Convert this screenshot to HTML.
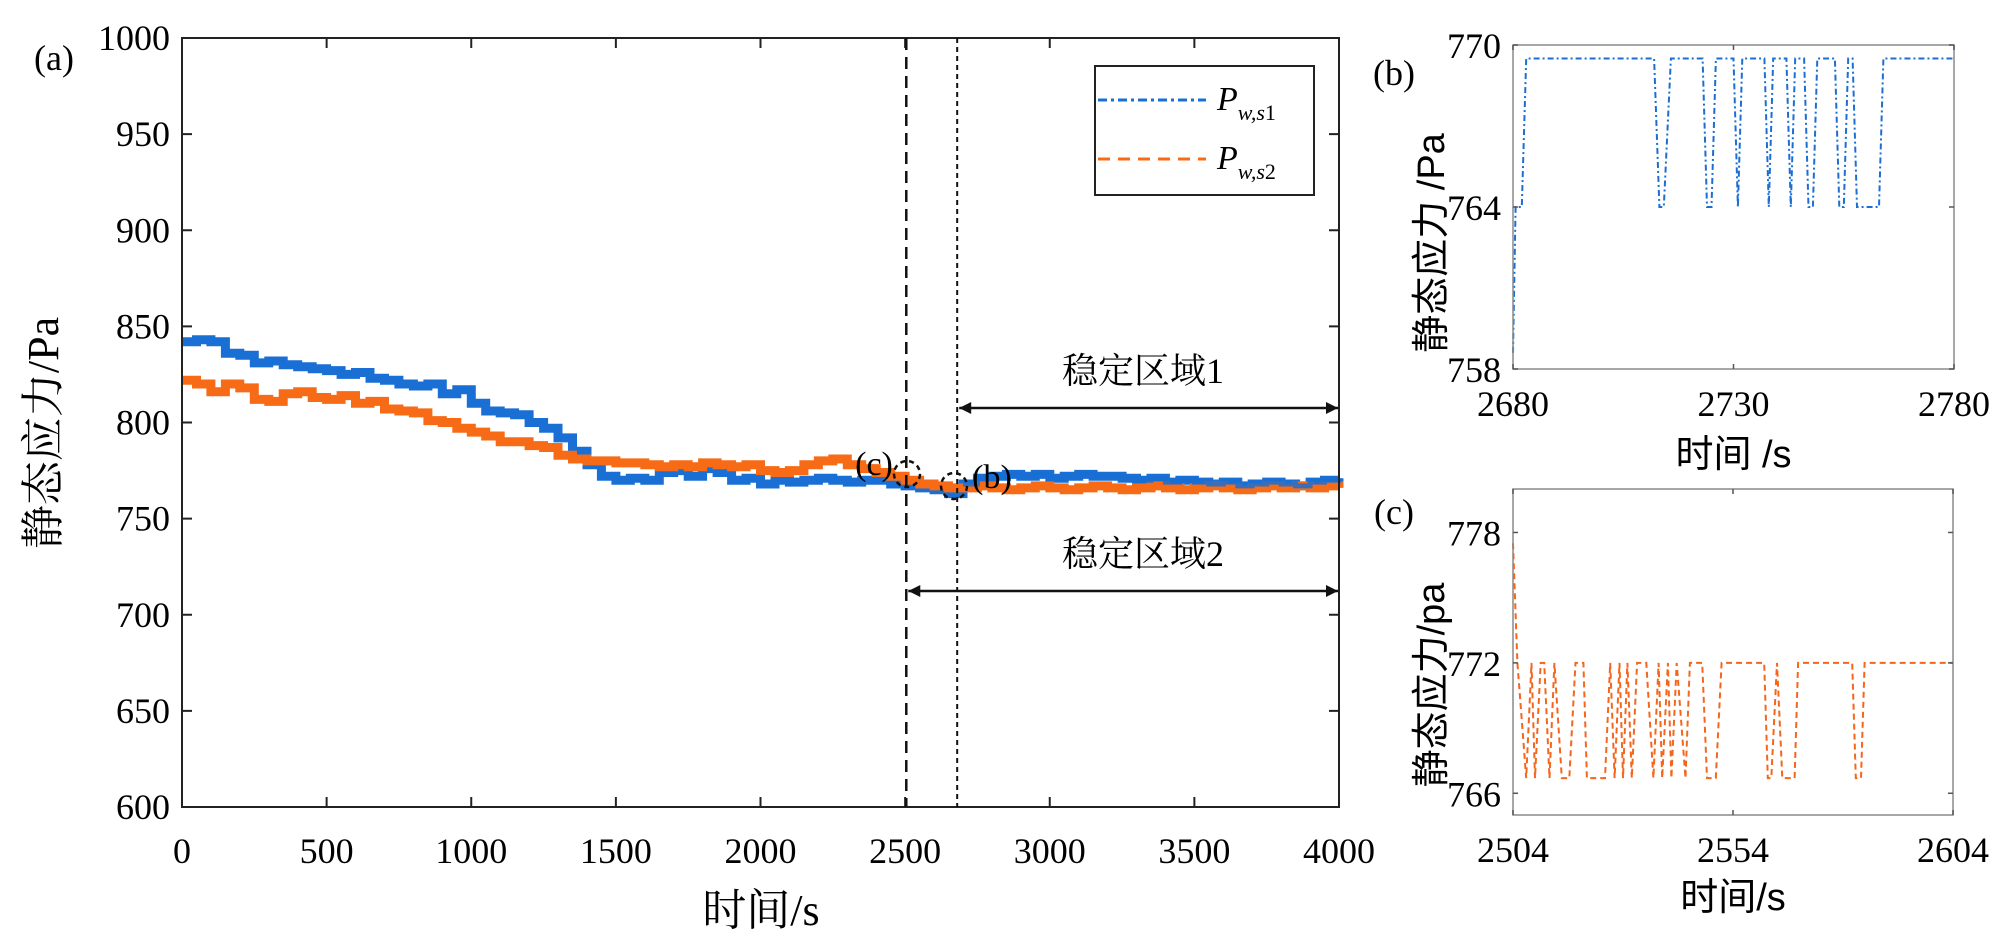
<!DOCTYPE html>
<html><head><meta charset="utf-8">
<style>
html,body{margin:0;padding:0;background:#fff;}
svg{display:block;}
.tn{font-family:"Liberation Serif","Noto Serif CJK SC",serif;}
.ss{font-family:"Liberation Sans","Noto Sans CJK SC",sans-serif;}
</style></head>
<body>
<svg id="fig" width="1999" height="944" viewBox="0 0 1999 944" xmlns="http://www.w3.org/2000/svg"></svg>
<script>
// ---- main chart data (x every 50 s) ----
const mainTimes = [0,50,100,150,200,250,300,350,400,450,500,550,600,650,700,750,800,850,900,950,1000,1050,1100,1150,1200,1250,1300,1350,1400,1450,1500,1550,1600,1650,1700,1750,1800,1850,1900,1950,2000,2050,2100,2150,2200,2250,2300,2350,2400,2450,2500,2550,2600,2650,2700,2750,2800,2850,2900,2950,3000,3050,3100,3150,3200,3250,3300,3350,3400,3450,3500,3550,3600,3650,3700,3750,3800,3850,3900,3950,4000];
const pws1 = [842,843,842,836,835,831,832,830,829,828,827,825,826,823,822,820,819,820,815,817,810,806,805,804,800,797,792,785,778,772,770,771,770,774,775,772,776,774,770,771,768,770,769,770,771,770,769,770,770,768,767,766,765,763,768,771,772,773,772,773,771,772,773,772,772,771,770,771,769,770,769,768,769,767,768,769,768,767,769,770,771];
const pws2 = [822,820,816,820,818,812,811,815,816,813,812,814,810,811,807,806,805,801,800,797,795,793,790,790,788,787,783,781,780,780,779,779,778,777,778,777,779,778,777,778,775,774,775,778,780,781,778,776,774,772,770,768,767,766,766,767,766,765,766,767,766,765,766,767,766,765,766,767,766,765,766,767,766,765,766,767,766,767,766,767,766];
const mainXTicks = [0,500,1000,1500,2000,2500,3000,3500,4000];
const mainYTicks = [600,650,700,750,800,850,900,950,1000];
const markerTimes = [2504,2680];
// ---- inset (b) ----
const bTimes = [2680,2680.6,2682,2683,2712,2713.2,2714.2,2715.8,2723,2724,2725,2726,2730,2731,2732,2737,2738,2739,2742,2743,2744,2746,2747,2748,2749,2753,2754,2755,2756,2757,2758,2763,2764,2780];
const bVals = [758.6,764,764,769.5,769.5,764,764,769.5,769.5,764,764,769.5,769.5,764,769.5,769.5,764,769.5,769.5,764,769.5,769.5,764,764,769.5,769.5,764,764,769.5,769.5,764,764,769.5,769.5];
const bXTicks = [2680,2730,2780];
const bYTicks = [758,764,770];
// ---- inset (c) ----
const cTimes = [2504,2505,2507,2508.2,2509,2510.3,2511.1,2512.3,2513.4,2515.1,2516.8,2518.2,2520,2520.8,2524.9,2526.1,2527.1,2528.2,2529,2530,2531,2532.2,2534.3,2535.9,2537.1,2537.9,2539.2,2540,2541.2,2543.2,2544.2,2547,2548.1,2550.1,2551.4,2561.1,2561.9,2562.7,2564,2565.2,2568,2568.8,2581.1,2581.9,2583.1,2583.9,2604];
const cVals = [777.5,772,766.7,772,766.7,772,772,766.7,772,766.7,766.7,772,772,766.7,766.7,772,766.7,772,766.7,772,766.7,772,772,766.7,772,766.7,772,766.7,772,766.7,772,772,766.7,766.7,772,772,766.7,766.7,772,766.7,766.7,772,772,766.7,766.7,772,772];
const cXTicks = [2504,2554,2604];
const cYTicks = [766,772,778];

const NS = "http://www.w3.org/2000/svg";
const fig = document.getElementById('fig');
function mk(tag, attrs, parent, text){
  const e = document.createElementNS(NS, tag);
  for (const k in attrs) e.setAttribute(k, attrs[k]);
  if (text !== undefined) e.textContent = text;
  (parent || fig).appendChild(e);
  return e;
}
function scale(d0,d1,r0,r1){ return v => r0 + (v-d0)/(d1-d0)*(r1-r0); }

// ===== Main chart =====
const M = {l:182, r:1339, t:38, b:807};
const mx = scale(0,4000,M.l,M.r);
const my = scale(600,1000,M.b,M.t);
const gMain = mk('g',{});



function stepPath(ts, vs, xs, ys){
  let d = 'M'+xs(ts[0]).toFixed(1)+','+ys(vs[0]).toFixed(1);
  for (let i=1;i<ts.length;i++){
    d += ' H'+xs(ts[i]).toFixed(1)+' V'+ys(vs[i]).toFixed(1);
  }
  return d;
}
const s1 = mk('path',{d:stepPath(mainTimes,pws1,mx,my),fill:'none',stroke:'#1a6fd4','stroke-width':9},gMain);


const s2 = mk('path',{d:stepPath(mainTimes,pws2,mx,my),fill:'none',stroke:'#f86b16','stroke-width':9},gMain);


const s1b = mk('path',{d:stepPath(mainTimes.slice(54),pws1.slice(54),mx,my),fill:'none',stroke:'#1a6fd4','stroke-width':5,'opacity':0.85},gMain);



const mf = mk('rect',{x:M.l,y:M.t,width:M.r-M.l,height:M.b-M.t,fill:'none',stroke:'#222','stroke-width':2},gMain);


mainXTicks.forEach(v=>{
  const x = mx(v);
  mk('line',{x1:x,x2:x,y1:M.b,y2:M.b-10,stroke:'#222','stroke-width':2},gMain);
  mk('line',{x1:x,x2:x,y1:M.t,y2:M.t+10,stroke:'#222','stroke-width':2},gMain);
  const t = mk('text',{x:x,y:863,'text-anchor':'middle','font-size':36,class:'tn'},gMain,String(v));
  
  
});
mainYTicks.forEach(v=>{
  const y = my(v);
  mk('line',{x1:M.l,x2:M.l+10,y1:y,y2:y,stroke:'#222','stroke-width':2},gMain);
  mk('line',{x1:M.r,x2:M.r-10,y1:y,y2:y,stroke:'#222','stroke-width':2},gMain);
  const t = mk('text',{x:170,y:y+12,'text-anchor':'end','font-size':36,class:'tn'},gMain,String(v));
  
  
});
const xt = mk('text',{x:761,y:925,'text-anchor':'middle','font-size':44,class:'tn'},gMain,'时间/s');


const yt = mk('text',{x:0,y:0,'text-anchor':'middle','font-size':44,class:'tn',transform:'translate(58,433) rotate(-90)'},gMain,'静态应力/Pa');


const pa = mk('text',{x:54,y:70,'text-anchor':'middle','font-size':36,class:'tn'},gMain,'(a)');



const vl1 = mk('line',{x1:mx(markerTimes[0]),x2:mx(markerTimes[0]),y1:M.t,y2:M.b,stroke:'#111','stroke-width':2.5,'stroke-dasharray':'12,7'},gMain);


const vl2 = mk('line',{x1:mx(markerTimes[1]),x2:mx(markerTimes[1]),y1:M.t,y2:M.b,stroke:'#111','stroke-width':2,'stroke-dasharray':'5,4'},gMain);



const cc = mk('circle',{cx:907,cy:474,r:13,fill:'none',stroke:'#111','stroke-width':2.5,'stroke-dasharray':'5,4'},gMain);


const cb = mk('circle',{cx:954,cy:486,r:13,fill:'none',stroke:'#111','stroke-width':2.5,'stroke-dasharray':'5,4'},gMain);


const lc = mk('text',{x:874,y:475,'text-anchor':'middle','font-size':34,class:'tn'},gMain,'(c)');


const lb = mk('text',{x:992,y:488,'text-anchor':'middle','font-size':34,class:'tn'},gMain,'(b)');



mk('defs',{},fig).innerHTML = '<marker id="ah" viewBox="0 0 10 10" refX="10" refY="5" markerWidth="14" markerHeight="12" orient="auto-start-reverse" markerUnits="userSpaceOnUse"><path d="M0,0 L10,5 L0,10 z" fill="#111"/></marker>';
const a1 = mk('line',{x1:mx(markerTimes[1])+2,x2:M.r-1,y1:408,y2:408,stroke:'#111','stroke-width':2.5,'marker-start':'url(#ah)','marker-end':'url(#ah)'},gMain);


const a2 = mk('line',{x1:mx(markerTimes[0])+2,x2:M.r-1,y1:591,y2:591,stroke:'#111','stroke-width':2.5,'marker-start':'url(#ah)','marker-end':'url(#ah)'},gMain);


const t1 = mk('text',{x:1143,y:383,'text-anchor':'middle','font-size':36,class:'tn'},gMain,'稳定区域1');


const t2 = mk('text',{x:1143,y:566,'text-anchor':'middle','font-size':36,class:'tn'},gMain,'稳定区域2');



const lg = mk('g',{},gMain);


mk('rect',{x:1095,y:66,width:219,height:129,fill:'#fff',stroke:'#222','stroke-width':2},lg);
const le1 = mk('line',{x1:1098,x2:1206,y1:100,y2:100,stroke:'#1a6fd4','stroke-width':3,'stroke-dasharray':'9,4,3,4'},lg);


const le2 = mk('line',{x1:1098,x2:1206,y1:159,y2:159,stroke:'#f86b16','stroke-width':3,'stroke-dasharray':'12,8'},lg);


const lt1 = mk('text',{x:1217,y:110,'font-size':34,class:'tn','font-style':'italic'},lg);
lt1.innerHTML = 'P<tspan font-size="22" dy="10">w,s</tspan><tspan font-size="22" font-style="normal">1</tspan>';


const lt2 = mk('text',{x:1217,y:169,'font-size':34,class:'tn','font-style':'italic'},lg);
lt2.innerHTML = 'P<tspan font-size="22" dy="10">w,s</tspan><tspan font-size="22" font-style="normal">2</tspan>';



function inset(name, box, xd, yd, xticks, yticks, ts, vs, color, dash, ytitle, ytitleY, xtitle, xtitleY, xlabY, panel, panelY){
  const g = mk('g',{});
  
  
  const xs = scale(xd[0],xd[1],box.l,box.r);
  const ys = scale(yd[0],yd[1],box.b,box.t);
  let d = '';
  ts.forEach((t,i)=>{ d += (i?' L':'M')+xs(t).toFixed(1)+','+ys(vs[i]).toFixed(1); });
  const p = mk('path',{d:d,fill:'none',stroke:color,'stroke-width':2,'stroke-dasharray':dash},g);
  
  
  const fr = mk('rect',{x:box.l,y:box.t,width:box.r-box.l,height:box.b-box.t,fill:'none',stroke:'#8a8a8a','stroke-width':1.5},g);
  
  
  xticks.forEach(v=>{
    const x = xs(v);
    mk('line',{x1:x,x2:x,y1:box.b,y2:box.b-5,stroke:'#555','stroke-width':1.5},g);
    mk('line',{x1:x,x2:x,y1:box.t,y2:box.t+5,stroke:'#555','stroke-width':1.5},g);
    const t = mk('text',{x:x,y:xlabY,'text-anchor':'middle','font-size':36,class:'tn'},g,String(v));
    
    
  });
  yticks.forEach(v=>{
    const y = ys(v);
    mk('line',{x1:box.l,x2:box.l+5,y1:y,y2:y,stroke:'#555','stroke-width':1.5},g);
    mk('line',{x1:box.r,x2:box.r-5,y1:y,y2:y,stroke:'#555','stroke-width':1.5},g);
    const t = mk('text',{x:box.l-12,y:y+13,'text-anchor':'end','font-size':36,class:'tn'},g,String(v));
    
    
  });
  const yt = mk('text',{x:0,y:0,'text-anchor':'middle','font-size':38,class:'ss',transform:'translate(1444,'+ytitleY+') rotate(-90)'},g,ytitle);
  
  
  const xt = mk('text',{x:(box.l+box.r)/2,y:xtitleY,'text-anchor':'middle','font-size':38,class:'ss'},g,xtitle);
  
  
  const pl = mk('text',{x:1394,y:panelY,'text-anchor':'middle','font-size':36,class:'tn'},g,panel);
  
  
}
inset('inset-b',{l:1513,r:1954,t:45,b:369},[2680,2780],[758,770],bXTicks,bYTicks,bTimes,bVals,'#1a6fd4','6,3,2,3','静态应力 /Pa',243,'时间 /s',467,416,'(b)',85);
inset('inset-c',{l:1513,r:1953,t:489,b:815},[2504,2604],[765,780],cXTicks,cYTicks,cTimes,cVals,'#f4661c','6,4','静态应力/pa',685,'时间/s',910,862,'(c)',524);
</script>
</body></html>
